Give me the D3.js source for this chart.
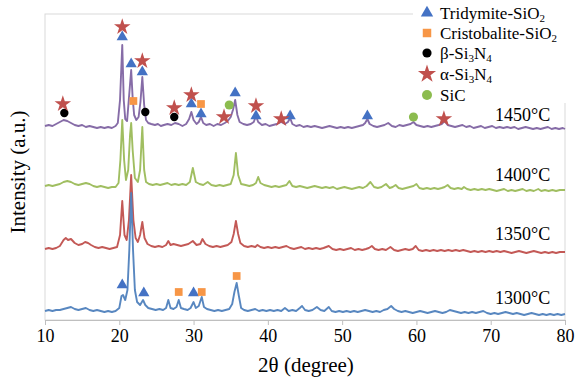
<!DOCTYPE html>
<html><head><meta charset="utf-8">
<script src="https://cdn.jsdelivr.net/npm/d3@7"></script>
<style>body{margin:0;background:#fff}svg{display:block}</style>
</head><body><svg id="c" width="581" height="379"></svg>
<script>
// x tick labels
const xTicks = [10,20,30,40,50,60,70,80];
const temps = ["1450°C","1400°C","1350°C","1300°C"];
const tempLabelY = [205,145,86,22];
// stacked intensities (a.u.) per temperature
const s1450 = [[10,194],[10.5,195],[11,194],[11.5,196],[12,198],[12.5,200],[13,199],[13.5,197],[14,195],[14.5,194],[15,195],[15.5,193],[16,194],[16.5,193],[17,192],[17.5,193],[18,192],[18.5,193],[19,192],[19.5,194],[19.8,197],[20.1,220],[20.4,275],[20.6,220],[20.8,201],[21.05,199],[21.3,222],[21.6,250],[21.8,222],[22.0,205],[22.3,200],[22.6,203],[22.85,218],[23.1,243],[23.35,215],[23.6,200],[23.9,197],[24.3,196],[24.8,195],[25.2,196],[25.6,194],[26,195],[26.5,196],[27,195],[27.5,197],[28,196],[28.5,194],[29,196],[29.4,201],[29.7,208],[30,200],[30.4,196],[30.7,198],[31.0,203],[31.3,197],[31.7,195],[32.2,196],[32.7,194],[33.2,196],[33.7,195],[34.2,197],[34.6,199],[35.0,203],[35.3,210],[35.6,220],[35.9,205],[36.2,198],[36.7,196],[37.2,195],[37.7,196],[38.1,198],[38.4,204],[38.7,198],[39.2,195],[39.7,196],[40.2,194],[40.7,195],[41.2,196],[41.8,198],[42.3,196],[42.7,198],[43.0,202],[43.3,196],[43.8,194],[44.3,195],[44.8,193],[45.3,194],[45.8,193],[46.3,194],[46.8,193],[47.3,192],[47.8,193],[48.3,194],[48.8,193],[49.3,192],[49.8,193],[50.3,192],[50.8,193],[51.3,192],[51.8,193],[52.3,194],[52.8,195],[53.1,197],[53.4,201],[53.7,196],[54.2,194],[54.7,193],[55.2,194],[55.7,195],[56.2,197],[56.7,194],[57.2,193],[57.7,195],[58.2,194],[58.7,195],[59.2,196],[59.6,198],[60.0,195],[60.5,194],[61,193],[61.5,194],[62,193],[62.5,194],[63,195],[63.4,196],[63.8,199],[64.2,195],[64.7,194],[65.2,193],[65.7,194],[66.2,195],[66.7,193],[67.2,194],[67.7,192],[68.2,193],[68.7,194],[69.2,192],[69.7,193],[70.2,194],[70.7,192],[71.2,193],[71.7,192],[72.2,193],[72.7,192],[73.2,193],[73.7,191],[74.2,192],[74.7,193],[75.2,192],[75.7,191],[76.2,192],[76.7,191],[77.2,192],[77.7,193],[78.2,191],[78.7,192],[79.2,191],[79.7,192],[80,191]];
const s1400 = [[10,134],[10.5,135],[11,134],[11.5,135],[12,136],[12.5,138],[13,139],[13.5,138],[14,136],[14.5,135],[15,136],[15.5,137],[16,136],[16.5,134],[17,133],[17.5,134],[18,133],[18.5,132],[19,133],[19.5,133],[19.9,137],[20.15,160],[20.4,200],[20.65,160],[20.9,140],[21.2,150],[21.45,185],[21.6,197],[21.8,170],[22.1,142],[22.5,138],[22.8,150],[23.1,193],[23.35,150],[23.6,138],[24,136],[24.5,135],[25,136],[25.5,135],[26,136],[26.5,137],[27,135],[27.5,136],[28,135],[28.5,136],[29,135],[29.5,138],[29.9,152],[30.3,138],[30.8,136],[31.3,135],[31.9,138],[32.4,135],[33,134],[33.5,135],[34,134],[34.5,135],[35,136],[35.4,145],[35.7,167],[36,145],[36.4,136],[37,135],[37.5,134],[38,135],[38.4,137],[38.7,143],[39,137],[39.5,135],[40,134],[40.5,133],[41,134],[41.5,133],[42,134],[42.5,135],[42.9,139],[43.3,134],[43.8,133],[44.3,134],[44.8,133],[45.3,132],[45.8,133],[46.3,134],[46.8,133],[47.3,132],[47.8,133],[48.3,132],[48.8,133],[49.3,131],[49.8,132],[50.3,133],[50.8,132],[51.3,131],[51.8,132],[52.3,133],[52.8,132],[53.3,134],[53.8,138],[54.3,133],[54.8,132],[55.3,133],[55.9,136],[56.4,132],[56.8,133],[57.2,135],[57.6,132],[58.1,131],[58.6,132],[59.1,133],[59.6,134],[60,136],[60.4,132],[60.9,131],[61.4,132],[61.9,131],[62.4,132],[62.9,131],[63.4,132],[63.8,133],[64.2,135],[64.6,132],[65.1,131],[65.6,132],[66.1,131],[66.4,133],[66.8,131],[67.3,130],[67.8,131],[68.3,130],[68.8,131],[69.3,130],[69.8,131],[70.3,130],[70.8,129],[71.3,130],[71.8,131],[72.3,129],[72.8,130],[73.3,129],[73.8,130],[74.3,131],[74.8,129],[75.3,130],[75.8,129],[76.4,131],[76.8,129],[77.3,130],[77.8,129],[78.3,130],[78.8,129],[79.3,130],[80,130]];
const s1350 = [[10,71],[10.5,72],[11,71],[11.5,72],[12,74],[12.5,80],[12.8,82],[13.1,80],[13.5,81],[14,77],[14.5,75],[15,76],[15.4,78],[15.8,77],[16.2,75],[16.7,73],[17.2,72],[17.7,73],[18.2,72],[18.7,71],[19.2,72],[19.7,73],[20.1,85],[20.4,119],[20.7,85],[21.0,80],[21.3,100],[21.6,145],[21.9,100],[22.2,82],[22.5,78],[22.8,85],[23.1,98],[23.4,82],[23.8,76],[24.3,74],[24.8,73],[25.3,74],[25.8,73],[26.3,75],[26.6,79],[26.9,75],[27.3,76],[27.8,75],[28.3,74],[28.8,75],[29.3,76],[29.9,79],[30.4,75],[30.9,76],[31.2,81],[31.6,76],[32.1,74],[32.6,73],[33.1,74],[33.6,73],[34.1,74],[34.6,75],[35.1,78],[35.4,86],[35.7,99],[36.0,86],[36.3,77],[36.8,74],[37.3,73],[37.8,74],[38.3,73],[38.6,75],[39,73],[39.5,72],[40,73],[40.5,72],[41,73],[41.5,72],[42,73],[42.5,74],[43,72],[43.5,71],[44,72],[44.5,73],[45,71],[45.5,72],[46,71],[46.5,72],[47,71],[47.5,72],[48.2,74],[48.7,71],[49.2,70],[49.7,71],[50.2,70],[50.7,71],[51.2,72],[51.7,70],[52.2,71],[52.7,70],[53.2,71],[53.6,72],[54,74],[54.4,71],[54.9,70],[55.4,71],[55.9,70],[56.5,73],[57,70],[57.5,69],[58,70],[58.5,71],[59,70],[59.5,71],[59.9,74],[60.3,70],[60.8,69],[61.3,70],[61.8,69],[62.3,70],[62.8,69],[63.3,70],[63.8,69],[64.3,70],[64.8,69],[65.3,70],[65.8,69],[66.3,70],[66.8,69],[67.3,68],[67.8,69],[68.3,68],[68.8,69],[69.3,68],[69.8,69],[70.3,68],[70.8,69],[71.3,68],[71.8,69],[72.3,68],[72.8,67],[73.3,68],[73.8,69],[74.3,68],[74.8,67],[75.3,68],[75.8,69],[76.3,68],[76.8,67],[77.3,68],[77.8,67],[78.3,68],[78.8,67],[79.3,68],[80,68]];
const s1300 = [[10,9],[10.5,10],[11,9],[11.5,10],[12,10],[12.5,11],[13,12],[13.5,13],[14,11],[14.5,10],[15,11],[15.5,12],[16,10],[16.5,9],[17,10],[17.5,9],[18,8],[18.5,9],[19,8],[19.5,9],[20,12],[20.3,24],[20.5,25],[20.8,20],[21.1,30],[21.35,70],[21.6,127],[21.85,70],[22.1,30],[22.4,18],[22.8,15],[23.2,20],[23.5,15],[23.9,12],[24.4,11],[24.9,10],[25.4,11],[25.9,10],[26.3,12],[26.6,20],[26.9,12],[27.3,11],[27.7,13],[28.0,20],[28.3,12],[28.7,11],[29.2,10],[29.6,12],[30.0,18],[30.3,12],[30.7,14],[31.1,23],[31.4,13],[31.8,11],[32.3,10],[32.8,9],[33.3,10],[33.8,9],[34.3,10],[34.8,11],[35.2,16],[35.5,28],[35.8,37],[36.1,24],[36.4,12],[36.8,10],[37.3,9],[37.8,10],[38.3,11],[38.8,9],[39.3,10],[39.8,9],[40.3,10],[40.8,9],[41.3,10],[41.8,9],[42.3,12],[42.8,9],[43.3,10],[43.8,9],[44.3,12],[44.6,14],[45,10],[45.5,9],[46,10],[46.6,13],[47.1,10],[47.6,9],[48.2,13],[48.6,9],[49.1,8],[49.6,9],[50.1,8],[50.6,9],[51.1,8],[51.6,9],[52.1,8],[52.6,9],[53.1,10],[53.6,9],[54.1,8],[54.6,9],[55.1,8],[55.6,10],[56.1,11],[56.6,14],[57,11],[57.5,9],[58,8],[58.5,9],[59,8],[59.5,7],[60,8],[60.5,9],[61,8],[61.5,7],[62,8],[62.5,9],[63,8],[63.5,7],[64,8],[64.5,10],[65,9],[65.5,8],[66,7],[66.5,8],[67,7],[67.5,8],[68,7],[68.5,8],[69,9],[69.5,7],[70,6],[70.5,7],[71,6],[71.5,7],[72,8],[72.5,7],[73,6],[73.5,7],[74,6],[74.5,5],[75,6],[75.5,7],[76,6],[76.5,5],[77,6],[77.5,5],[78,6],[78.5,5],[79,6],[79.5,5],[80,6]];
// phase markers [2θ, intensity]
const mTridymite = [[20.4,283],[21.6,256],[23.1,248],[29.7,216],[31.0,206],[35.6,227],[38.4,204],[43.0,204],[53.4,204],[20.4,35],[23.3,27],[30.0,27]];
const mCristobalite = [[21.9,219],[31.0,216],[28.0,28],[31.1,28],[35.8,44]];
const mBeta = [[12.6,207],[23.5,208],[27.4,203]];
const mAlpha = [[12.4,216],[20.4,293],[23.1,259],[27.4,212],[29.7,225],[34.1,203],[38.4,214],[41.8,201],[63.7,201]];
const mSiC = [[34.8,215],[59.6,203]];
const legendNames = [["Tridymite-SiO","2"],["Cristobalite-SiO","2"],["β-Si","3","N","4"],["α-Si","3","N","4"],["SiC"]];

const FONT = "'Liberation Serif','Times New Roman',serif";
const svg = d3.select("#c");
const x = d3.scaleLinear().domain([10,80]).range([45,565]);
const y = d3.scaleLinear().domain([0,306]).range([320,14]);

// frame
svg.append("rect").attr("x",45).attr("y",14).attr("width",520).attr("height",306)
  .attr("fill","none").attr("stroke","#d9d9d9").attr("stroke-width",1);

const ax = svg.append("g").attr("transform","translate(0,320)")
  .call(d3.axisBottom(x).tickValues(xTicks).tickSize(5).tickPadding(4).tickFormat(d3.format("d")));
ax.attr("font-family",null).attr("font-size",null);
ax.select(".domain").attr("stroke","#bfbfbf");
ax.selectAll(".tick line").attr("stroke","#bfbfbf");
ax.selectAll("text").style("font-family",FONT).style("font-size","18px").attr("fill","#000");

svg.append("text").attr("x",306).attr("y",372).attr("text-anchor","middle")
  .style("font-family",FONT).style("font-size","21px").text("2θ (degree)");
svg.append("text").attr("transform","translate(25,172) rotate(-90)").attr("text-anchor","middle")
  .style("font-family",FONT).style("font-size","21px").text("Intensity (a.u.)");

const line = d3.line().x(d=>x(d[0])).y(d=>y(d[1])).curve(d3.curveLinear);
const series = [[s1400,"#9bbb59"],[s1350,"#c0504d"],[s1300,"#4f81bd"],[s1450,"#8064a2"]];
series.forEach(([d,c])=>{
  svg.append("path").datum(d).attr("d",line).attr("fill","none").attr("stroke",c)
    .attr("stroke-width",1.9).attr("stroke-linejoin","round").attr("opacity",0.95);
});

temps.forEach((t,i)=>{
  svg.append("text").attr("x",495).attr("y",y(tempLabelY[i])+6)
    .style("font-family",FONT).style("font-size","18px").text(t);
});

const sym = {
  tri:[d3.symbolTriangle,55,"#4472c4"],
  sq:[d3.symbolSquare,60,"#f79646"],
  ci:[d3.symbolCircle,55,"#000"],
  st:[d3.symbolStar,85,"#c0504d"],
  sic:[d3.symbolCircle,65,"#8cbc4f"]
};
function drawMarkers(data,key){
  const [t,s,c] = sym[key];
  svg.append("g").selectAll("path").data(data).join("path")
    .attr("transform",d=>`translate(${x(d[0])},${y(d[1])})`)
    .attr("d",d3.symbol().type(t).size(s)).attr("fill",c);
}
drawMarkers(mTridymite,"tri");
drawMarkers(mCristobalite,"sq");
drawMarkers(mBeta,"ci");
drawMarkers(mAlpha,"st");
drawMarkers(mSiC,"sic");

// legend
svg.append("rect").attr("x",413).attr("y",0).attr("width",168).attr("height",103).attr("fill","#fff");
const keys = ["tri","sq","ci","st","sic"];
const rowY = [13,33,53,74,95];
keys.forEach((k,i)=>{
  const [t,s,c] = sym[k];
  svg.append("path").attr("transform",`translate(427,${rowY[i]})`).attr("d",d3.symbol().type(t).size(s*1.2)).attr("fill",c);
  const txt = svg.append("text").attr("x",440).attr("y",rowY[i]+6)
    .style("font-family",FONT).style("font-size","17px");
  legendNames[i].forEach((p,j)=>{
    const sub = (j%2===1);
    txt.append("tspan").style("font-size",sub?"11px":"17px").attr("dy",sub?3:(j>0?-3:0)).text(p);
  });
});
</script></body></html>
